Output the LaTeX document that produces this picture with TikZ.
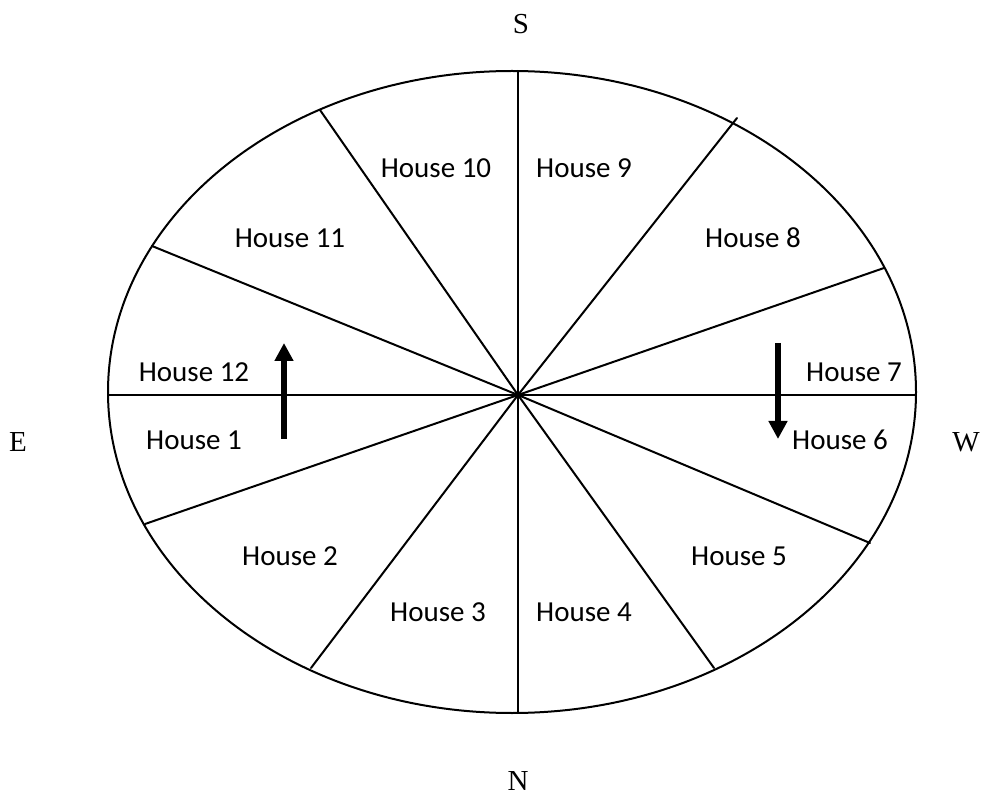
\documentclass[tikz,border=0pt]{standalone}
\usepackage{fontspec}
\setmainfont{Carlito}
\newfontfamily\compassfont{Liberation Serif}
\usetikzlibrary{arrows.meta}
\tikzset{
  house/.style={font=\fontsize{29}{35}\selectfont, inner sep=0pt, anchor=center},
  compass/.style={font=\compassfont\fontsize{29}{35}\selectfont, inner sep=0pt, anchor=center},
  divider/.style={line width=2pt, line cap=round},
  motion/.style={line width=5.5pt, -{Triangle[width=18pt,length=18pt]}}
}
\begin{document}
\begin{tikzpicture}[x=1pt,y=-1pt]
\useasboundingbox (0,0) rectangle (999,799);
\fill[white] (0,0) rectangle (999,799);
% ellipse
\draw[line width=2pt] (512,392) ellipse [x radius=404, y radius=321];
% centre and rim points
\coordinate (c) at (518,395);
\coordinate (top) at (518,71);
\coordinate (bot) at (518,713);
\coordinate (lft) at (108,395);
\coordinate (rgt) at (916,395);
\coordinate (a10) at (320,110);
\coordinate (a4) at (714,668);
\coordinate (a11) at (152,246);
\coordinate (a5) at (870,543);
\coordinate (a8) at (737,118);
\coordinate (a2) at (311,668);
\coordinate (a7) at (884,268);
\coordinate (a1) at (145,524);
\draw[divider] (top) -- (bot);
\draw[divider] (lft) -- (rgt);
\draw[divider] (a10) -- (c) -- (a4);
\draw[divider] (a11) -- (c) -- (a5);
\draw[divider] (a8) -- (c) -- (a2);
\draw[divider] (a7) -- (c) -- (a1);
% house labels
\node[house] (h10) at (436,168) {House 10};
\node[house] (h9) at (584,168) {House 9};
\node[house] (h11) at (290,238) {House 11};
\node[house] (h8) at (753,238) {House 8};
\node[house] (h12) at (194,372) {House 12};
\node[house] (h7) at (854,372) {House 7};
\node[house] (h1) at (194,440) {House 1};
\node[house] (h6) at (840,440) {House 6};
\node[house] (h2) at (290,556) {House 2};
\node[house] (h5) at (739,556) {House 5};
\node[house] (h3) at (438,612) {House 3};
\node[house] (h4) at (584,612) {House 4};
% compass
\node[compass] (S) at (521,24) {S};
\node[compass] (N) at (518,781) {N};
\node[compass] (E) at (18,442) {E};
\node[compass] (W) at (966,442) {W};
% arrows
\coordinate (l0) at (284,439);
\coordinate (l1) at (284,343);
\coordinate (r0) at (778,343);
\coordinate (r1) at (778,439);
\draw[motion] (l0) -- (l1);
\draw[motion] (r0) -- (r1);
\end{tikzpicture}
\end{document}
